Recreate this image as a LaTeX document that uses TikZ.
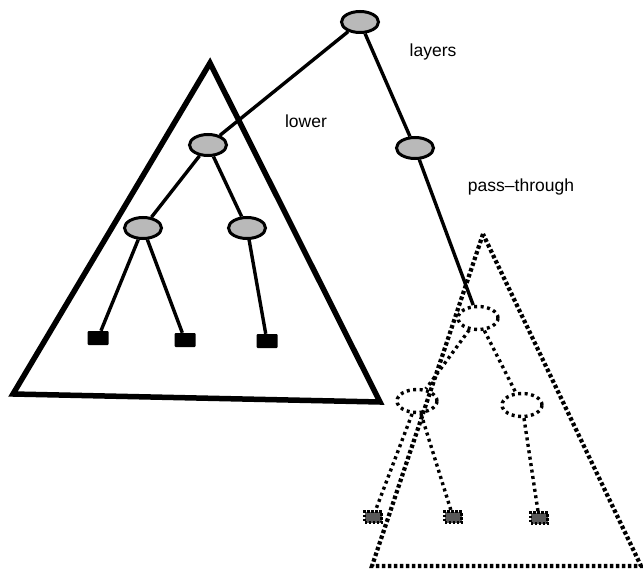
\documentclass[tikz,border=0pt]{standalone}
\usepackage{fontspec}
\setmainfont{Liberation Sans}
\usetikzlibrary{shapes.geometric}
\begin{document}
\begin{tikzpicture}[x=1pt,y=-1pt,
  solidnode/.style={ellipse,draw,line width=3pt,fill=gray!55,minimum width=37pt,minimum height=21pt,inner sep=0pt},
  ghostnode/.style={ellipse,draw,line width=3.4pt,dash pattern=on 3pt off 3.5pt,minimum width=40pt,minimum height=23pt,inner sep=0pt},
  leaf/.style={rectangle,fill=black,minimum width=21pt,minimum height=14pt,inner sep=0pt,rounded corners=1pt},
  ghostleaf/.style={rectangle,draw,fill=black!65,line width=2.6pt,dash pattern=on 2.5pt off 1.5pt,minimum width=17pt,minimum height=11pt,inner sep=0pt},
  edge/.style={line width=3.4pt},
  ghostedge/.style={line width=3.4pt,dash pattern=on 3pt off 3.5pt},
  tri/.style={line width=5.5pt,line join=miter},
  ghosttri/.style={line width=4.2pt,dash pattern=on 3.5pt off 2.5pt},
  lbl/.style={font=\fontsize{17.5}{20}\selectfont,inner sep=0pt}]
\useasboundingbox (0,0) rectangle (643,580);
% triangles
\draw[tri] (210,63) -- (13,394) -- (380,402) -- cycle;
\draw[ghosttri] (483,234) -- (372,566) -- (641,566) -- cycle;
% nodes
\node[solidnode] (r) at (360,22) {};
\node[solidnode] (a) at (208,145) {};
\node[solidnode] (p) at (415,148) {};
\node[solidnode] (a1) at (143,228) {};
\node[solidnode] (a2) at (247,228) {};
\node[leaf] (l1) at (98,338) {};
\node[leaf] (l2) at (185,340) {};
\node[leaf] (l3) at (267,341) {};
\node[ghostnode] (g) at (478,318) {};
\node[ghostnode] (g1) at (417,401) {};
\node[ghostnode] (g2) at (522,405) {};
\node[ghostleaf] (m1) at (373,517) {};
\node[ghostleaf] (m2) at (453,517) {};
\node[ghostleaf] (m3) at (539,518) {};
% edges
\draw[edge] (r) -- (a);
\draw[edge] (r) -- (p);
\draw[edge] (p) -- (g);
\draw[edge] (a) -- (a1);
\draw[edge] (a) -- (a2);
\draw[edge] (a1) -- (l1);
\draw[edge] (a1) -- (l2);
\draw[edge] (a2) -- (l3);
\draw[ghostedge] (g) -- (g1);
\draw[ghostedge] (g) -- (g2);
\draw[ghostedge] (g1) -- (m1);
\draw[ghostedge] (g1) -- (m2);
\draw[ghostedge] (g2) -- (m3);
% labels
\node[lbl] (t1) at (433,52) {layers};
\node[lbl] (t2) at (306,121) {lower};
\node[lbl] (t3) at (521,187) {pass–through};
\end{tikzpicture}
\end{document}
